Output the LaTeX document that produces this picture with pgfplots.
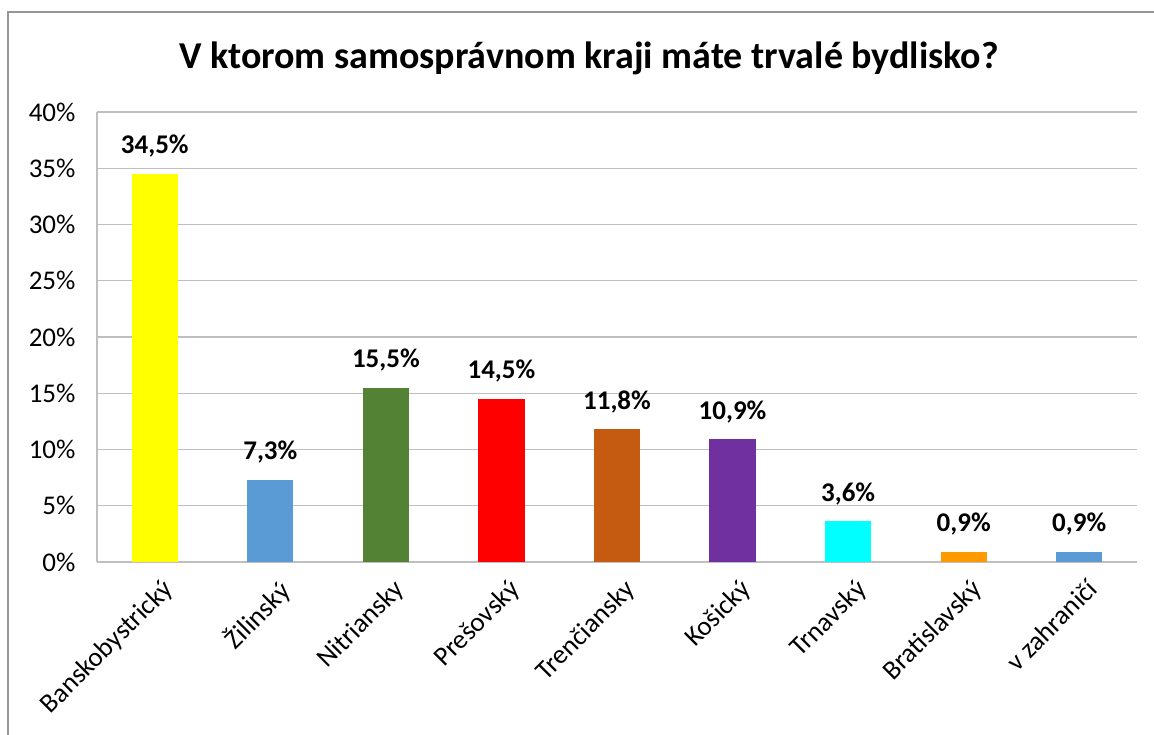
\documentclass[border=0pt]{standalone}
\usepackage{pgfplots}
\pgfplotsset{compat=1.18}
\usepackage{fontspec}
\setmainfont{Carlito}
\definecolor{gridgray}{RGB}{191,191,191}
\definecolor{framegray}{RGB}{150,150,150}
\definecolor{cyellow}{RGB}{255,255,0}
\definecolor{cblue}{RGB}{91,155,213}
\definecolor{cgreen}{RGB}{84,130,53}
\definecolor{cred}{RGB}{255,0,0}
\definecolor{cbrown}{RGB}{197,90,17}
\definecolor{cpurple}{RGB}{112,48,160}
\definecolor{ccyan}{RGB}{0,255,255}
\definecolor{corange}{RGB}{255,153,0}
\begin{document}
\begin{tikzpicture}
\useasboundingbox (0,0) rectangle (1154pt,735pt);
\draw[framegray, line width=1.2pt] (8pt,-5pt) -- (8pt,723pt) -- (1160pt,723pt);
\node[font=\fontsize{38}{44}\selectfont\bfseries] at (589pt,677pt) {V ktorom samosprávnom kraji máte trvalé bydlisko?};
\begin{axis}[
  at={(97pt,173pt)}, anchor=south west,
  scale only axis, width=1040pt, height=450pt,
  ybar, bar width=0.4, bar shift=0pt,
  xmin=-0.5, xmax=8.5, ymin=0, ymax=40,
  ytick={0,5,...,40},
  xtick={0,...,8},
  xticklabels={Banskobystrický,Žilinský,Nitriansky,Prešovský,Trenčiansky,Košický,Trnavský,Bratislavský,v zahraničí},
  x tick label style={rotate=45, anchor=north east, font=\fontsize{27}{30}\selectfont, yshift=-12pt, xshift=-3pt},
  y tick label style={font=\fontsize{27}{30}\selectfont, xshift=-18pt},
  /pgf/number format/assume math mode=true,
  yticklabel={\pgfmathprintnumber{\tick}\%},
  major tick length=0pt,
  axis x line*=bottom, axis y line*=left,
  axis line style={gridgray, line width=1.2pt, -},
  ymajorgrids, grid style={gridgray, line width=1.2pt},
  nodes near coords={\pgfmathprintnumber[fixed,fixed zerofill,precision=1,use comma]{\pgfplotspointmeta}\%},
  nodes near coords style={font=\fontsize{27}{30}\selectfont\bfseries, anchor=south, yshift=13pt},
  every axis plot/.append style={draw=none},
]
\addplot[fill=cyellow] coordinates {(0,34.5)};
\addplot[fill=cblue] coordinates {(1,7.3)};
\addplot[fill=cgreen] coordinates {(2,15.5)};
\addplot[fill=cred] coordinates {(3,14.5)};
\addplot[fill=cbrown] coordinates {(4,11.8)};
\addplot[fill=cpurple] coordinates {(5,10.9)};
\addplot[fill=ccyan] coordinates {(6,3.6)};
\addplot[fill=corange] coordinates {(7,0.9)};
\addplot[fill=cblue] coordinates {(8,0.9)};
\end{axis}
\end{tikzpicture}
\end{document}
